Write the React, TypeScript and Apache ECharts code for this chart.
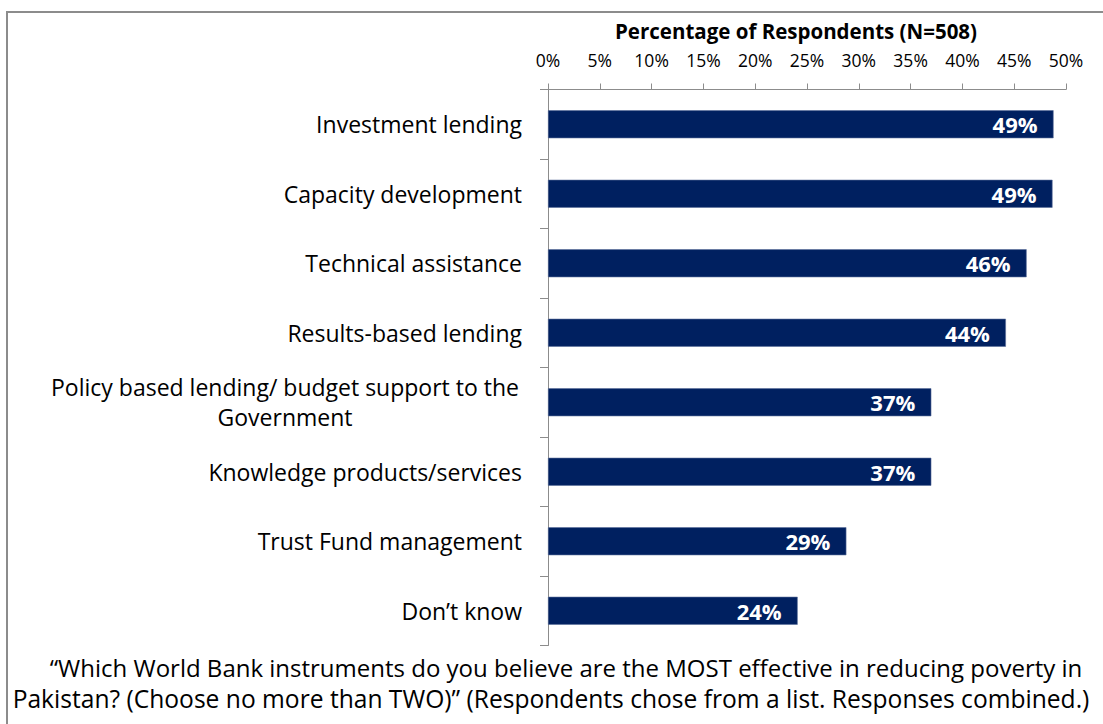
import React, { useEffect, useRef } from "react";
import * as echarts from "echarts";

const categories = [
  "Investment lending",
  "Capacity development",
  "Technical assistance",
  "Results-based lending",
  "Policy based lending/ budget support to the Government",
  "Knowledge products/services",
  "Trust Fund management",
  "Don\u2019t know",
];
const values = [48.8, 48.7, 46.2, 44.2, 37.0, 37.0, 28.8, 24.1];
const valueLabels = ["49%", "49%", "46%", "44%", "37%", "37%", "29%", "24%"];
const axisTitle = "Percentage of Respondents (N=508)";
const footnoteLines = [
  "\u201cWhich World Bank instruments do you believe are the MOST effective in reducing poverty in",
  "Pakistan? (Choose no more than TWO)\u201d (Respondents chose from a list. Responses combined.)",
];

const FONT = "'Open Sans', 'Noto Sans', sans-serif";

export default function App() {
  const ref = useRef<HTMLDivElement>(null);
  useEffect(() => {
    document.body.style.margin = "0";
    if (!ref.current) return;
    const chart = echarts.init(ref.current, undefined, { renderer: "svg" });
    chart.setOption({
      animation: false,
      backgroundColor: "#ffffff",
      textStyle: { fontFamily: FONT },
      grid: { left: 548, right: 37, top: 89.5, height: 556, containLabel: false },
      xAxis: {
        type: "value",
        position: "top",
        min: 0,
        max: 50,
        interval: 5,
        name: axisTitle,
        nameLocation: "middle",
        nameGap: 48,
        nameTextStyle: {
          fontFamily: FONT,
          fontSize: 20.5,
          fontWeight: "bold",
          color: "#000",
          padding: [0, 22, 0, 0],
        },
        axisLine: { show: true, lineStyle: { color: "#8c8c8c", width: 1 } },
        axisTick: { show: true, length: 6, lineStyle: { color: "#8c8c8c" } },
        axisLabel: { formatter: "{value}%", fontFamily: FONT, fontSize: 17.5, color: "#000", margin: 21 },
        splitLine: { show: false },
      },
      yAxis: {
        type: "category",
        inverse: true,
        data: categories,
        axisLine: { show: true, lineStyle: { color: "#8c8c8c", width: 1 } },
        axisTick: { show: true, length: 8, lineStyle: { color: "#8c8c8c" } },
        axisLabel: {
          fontFamily: FONT,
          fontSize: 23,
          color: "#000",
          margin: 26,
          lineHeight: 30,
          formatter: (v: string) =>
            v.startsWith("Policy")
              ? "{c|Policy based lending/ budget support to the}\n{c|Government}"
              : v,
          rich: {
            c: { width: 474, align: "center", fontFamily: FONT, fontSize: 23, color: "#000", lineHeight: 30 },
          },
        },
      },
      series: [
        {
          type: "bar",
          data: values,
          barWidth: 28,
          itemStyle: { color: "#002060", borderColor: "#5a6f9a", borderWidth: 0.6 },
          label: {
            show: true,
            position: "insideRight",
            distance: 16,
            formatter: (p: any) => valueLabels[p.dataIndex],
            color: "#fff",
            fontFamily: FONT,
            fontWeight: "bold",
            fontSize: 22,
          },
        },
      ],
      graphic: [
        {
          type: "rect",
          shape: { x: 7, y: 12, width: 1110, height: 730 },
          style: { fill: "none", stroke: "#8c8c8c", lineWidth: 2 },
          silent: true,
        },
        ...footnoteLines.map((t, i) => ({
          type: "text",
          x: i === 0 ? 566 : 551,
          y: 667 + i * 31,
          style: {
            text: t,
            fontFamily: FONT,
            fontSize: i === 0 ? 24 : 24.6,
            fill: "#000",
            align: "center",
            verticalAlign: "middle",
          },
        })),
      ],
    });
    return () => chart.dispose();
  }, []);
  return <div ref={ref} style={{ width: 1103, height: 724 }} />;
}
